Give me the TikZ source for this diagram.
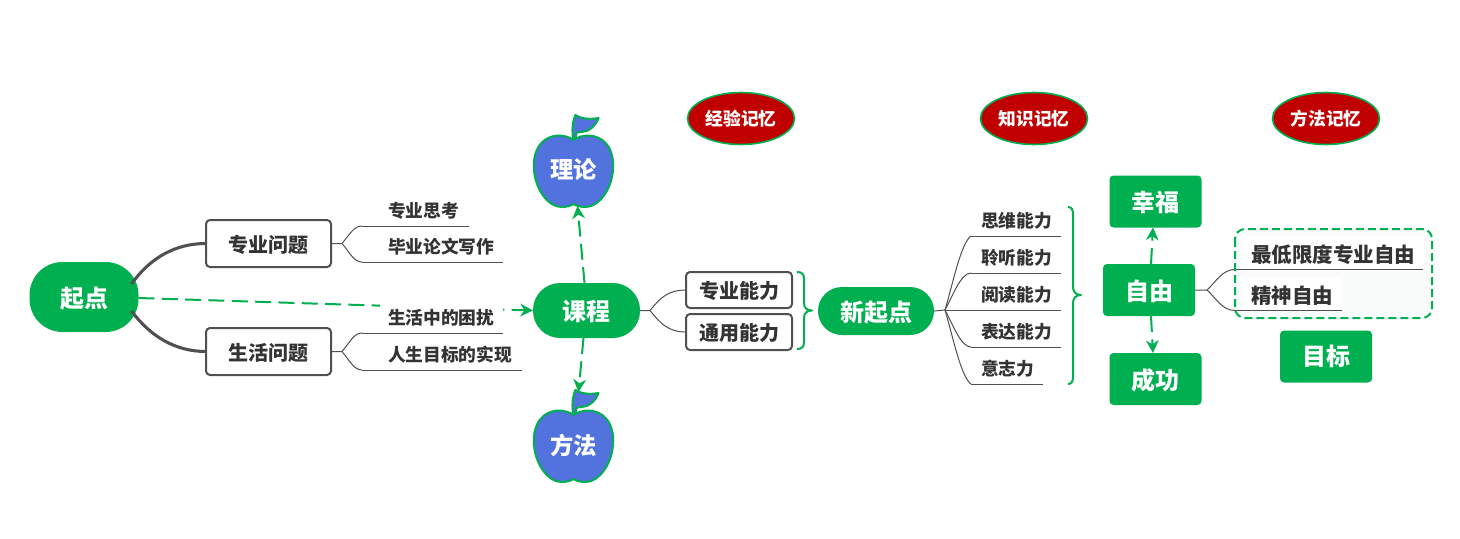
\documentclass[tikz,border=0pt]{standalone}
\usepackage{fontspec}
\setmainfont{Noto Sans CJK SC}
\usetikzlibrary{arrows.meta,calc,shapes.geometric}
\definecolor{gr}{HTML}{00AF50}
\definecolor{ink}{HTML}{333333}
\definecolor{edge}{HTML}{505050}
\definecolor{wine}{HTML}{C00000}
\definecolor{appleblue}{HTML}{5272DE}
\definecolor{tint}{HTML}{FAFBFB}
\newcommand\fs[1]{\fontsize{#1}{#1}\bfseries\selectfont}
\newcommand\dn[2][0.75pt]{\raisebox{-#1}[\height][\depth]{#2}}
\tikzset{
  x=0.75pt,y=-0.75pt,
  w/.style={minimum width=#1*0.75pt},
  h/.style={minimum height=#1*0.75pt},
  base/.style={inner sep=0pt,outer sep=0pt},
  pill/.style={base,fill=gr,text=white,font=\fs{18},rounded corners=#1*0.75pt},
  gbox/.style={base,fill=gr,text=white,font=\fs{18},rounded corners=3pt,w=92,h=52},
  obox/.style={base,draw=edge,line width=1.5pt,fill=white,text=ink,font=\fs{15},rounded corners=3pt},
  memo/.style={base,ellipse,draw=gr,line width=1.2pt,fill=wine,text=white,font=\fs{13.3},w=107,h=52},
  sublab/.style={base,anchor=south west,text=ink,h=34},
  thin/.style={draw=edge,line width=0.75pt},
  thick/.style={draw=edge,line width=2.3pt},
  flow/.style={draw=gr,line width=1.5pt,dash pattern=on 12pt off 5.5pt,-{Stealth[length=9.5pt,width=9.5pt,inset=3pt]}},
  brace/.style={draw=gr,line width=1.5pt,line join=round},
  applebody/.style={draw=gr,line width=1.5pt,fill=appleblue,line join=round},
}
% name, x0, y of underline, x end, left text offset in pt, font size, text
\newcommand\sublabel[7]{%
  \pgfmathsetlengthmacro\subw{(#4-#2)*0.75}%
  \node[sublab,font=\fs{#6}] (#1) at (#2,#3) {\hbox to \subw{\hskip #5pt \dn[1.5pt]{#7}\hss}};
  \draw[thin] (#1.south west) -- (#1.south east);
}
% name, cx, cy, text
\newcommand\applenode[4]{%
  \begin{scope}[shift={(#2,#3)}]
    \draw[applebody] (0,-30) .. controls (-2,-40) and (-1,-50) .. (2,-56)
      .. controls (6,-53) and (15,-51) .. (25,-53)
      .. controls (22,-44) and (14,-39) .. (8,-39)
      .. controls (5,-39) and (4,-39) .. (3,-38) -- (2,-31) -- cycle;
    \draw[applebody] (0,-31) .. controls (-8,-37) and (-24,-38) .. (-33,-27)
      .. controls (-39,-20) and (-41,-8) .. (-39,3)
      .. controls (-37,18) and (-26,36) .. (-12,36)
      .. controls (-7,36) and (-3,35) .. (0,33)
      .. controls (3,35) and (7,36) .. (12,36)
      .. controls (26,36) and (37,18) .. (39,3)
      .. controls (41,-8) and (39,-20) .. (33,-27)
      .. controls (24,-38) and (8,-37) .. (0,-31) -- cycle;
    \node[base,text=white,font=\fs{17.5}] (#1) at (0,-2) {\dn{#4}};
    \coordinate (#1-top) at (5,-54);
    \coordinate (#1-bot) at (4,35);
  \end{scope}
}
\begin{document}
\begin{tikzpicture}
\useasboundingbox[fill=white] (0,0) rectangle (1460,539);

% left
\node[pill=33,w=109,h=70] (start) at (84,297) {\dn[1.5pt]{起点}};
\node[obox,w=125,h=47] (zy) at (268.5,243.5) {\dn{专业问题}};
\node[obox,w=125,h=47] (sh) at (268.5,351.5) {\dn{生活问题}};
\draw[thick] (start.north east) ++(-7,22) .. controls (150,258) and (175,243.5) .. (zy.west);
\draw[thick] (start.south east) ++(-7,-21) .. controls (150,336) and (175,351.5) .. (sh.west);

% main dashed flow (runs under the white ground of one label)
\node[pill=27,w=107,h=55] (course) at (586.5,310.5) {\dn{课程}};
\draw[flow] ($(start.east)+(0,1)$) -- (course.west);
\fill[white] (380,299) rectangle (503,333);

\sublabel{a1}{362}{226}{469}{19.5}{13.3}{专业思考}
\sublabel{a2}{362}{262}{503}{19.5}{13.3}{毕业论文写作}
\sublabel{b1}{362}{333}{503}{19.5}{13.3}{生活中的困扰}
\sublabel{b2}{362}{370}{522}{19.5}{13.3}{人生目标的实现}
\coordinate (zyf) at (342,243.5);
\coordinate (shf) at (342,351.5);
\draw[thin] (zy.east) -- (zyf) .. controls (350,234) and (354,226) .. (a1.south west);
\draw[thin] (zyf) .. controls (350,253) and (354,262) .. (a2.south west);
\draw[thin] (sh.east) -- (shf) .. controls (350,342) and (354,333) .. (b1.south west);
\draw[thin] (shf) .. controls (350,361) and (354,370) .. (b2.south west);

% apples
\applenode{theory}{573.5}{171}{理论}
\applenode{method}{573.5}{446}{方法}
\draw[flow] ($(course.north)+(-2,0)$) -- (theory-bot);
\draw[flow] ($(course.south)+(-3,0)$) -- (method-top);

% memory ovals
\node[memo] (m1) at (741,118.5) {经验记忆};
\node[memo] (m2) at (1034,118.5) {知识记忆};
\node[memo] (m3) at (1326,118.5) {方法记忆};

% abilities
\node[obox,w=106,h=36] (p1) at (739,290) {\dn{专业能力}};
\node[obox,w=106,h=36] (p2) at (739,332) {\dn{通用能力}};
\coordinate (cf) at (650,310.5);
\draw[thin] (course.east) -- (cf) .. controls (660,298) and (668,290) .. (p1.west);
\draw[thin] (cf) .. controls (660,323) and (668,332) .. (p2.west);
\draw[brace] (797,272) .. controls (802,272) and (804,274) .. (804,279) -- (804,303)
  .. controls (804,308) and (807,310.5) .. (812,310.5)
  .. controls (807,310.5) and (804,313) .. (804,318) -- (804,342)
  .. controls (804,347) and (802,349) .. (797,349);

% new start
\node[pill=24,w=116,h=48] (ns) at (876,311) {\dn{新起点}};
\sublabel{c1}{971}{236}{1061}{7.5}{13.3}{思维能力}
\sublabel{c2}{971}{273}{1061}{7.5}{13.3}{聆听能力}
\sublabel{c3}{971}{310}{1061}{7.5}{13.3}{阅读能力}
\sublabel{c4}{971}{347}{1061}{7.5}{13.3}{表达能力}
\sublabel{c5}{971}{384}{1043}{7.5}{13.3}{意志力}
\coordinate (nf) at (945,310);
\draw[thin] (ns.east) -- (nf) .. controls (953,283) and (961,243) .. (c1.south west);
\draw[thin] (nf) .. controls (953,295) and (961,273) .. (c2.south west);
\draw[thin] (nf) -- (c3.south west);
\draw[thin] (nf) .. controls (953,325) and (961,347) .. (c4.south west);
\draw[thin] (nf) .. controls (953,337) and (961,377) .. (c5.south west);
\draw[brace] (1068,207) .. controls (1072,207) and (1073,210) .. (1073,215) -- (1073,287)
  .. controls (1073,292) and (1076,295) .. (1081,295)
  .. controls (1076,295) and (1073,298) .. (1073,303) -- (1073,376)
  .. controls (1073,381) and (1072,384) .. (1068,384);

% goal
\node[gbox] (hp) at (1155.5,201.5) {\dn{幸福}};
\node[gbox] (fr) at (1149,290) {\dn{自由}};
\node[gbox] (sc) at (1155.5,379) {\dn{成功}};
\node[gbox] (gl) at (1326,356.5) {目标};
\draw[flow] ($(fr.north)+(2,0)$) -- ($(hp.south)+(-2.5,0)$);
\draw[flow] ($(fr.south)+(2,0)$) -- ($(sc.north)+(-2.5,0)$);

\draw[fill=tint,draw=none,rounded corners=7.5pt] (1235,229) rectangle (1432,318);
\fill[white] (1241,236) rectangle (1424,269);
\fill[white] (1241,277) rectangle (1342,310);
\sublabel{d1}{1235}{269.5}{1423}{12}{15.4}{最低限度专业自由}
\sublabel{d2}{1235}{310.5}{1342}{12}{15.4}{精神自由}
\coordinate (ff) at (1207,290);
\draw[thin] (fr.east) -- (ff) .. controls (1216,282) and (1222,269.5) .. (d1.south west);
\draw[thin] (ff) .. controls (1216,298) and (1222,310.5) .. (d2.south west);
\draw[gr,line width=1.5pt,dash pattern=on 6pt off 3pt,rounded corners=7.5pt] (1235,229) rectangle (1432,318);
\end{tikzpicture}
\end{document}
